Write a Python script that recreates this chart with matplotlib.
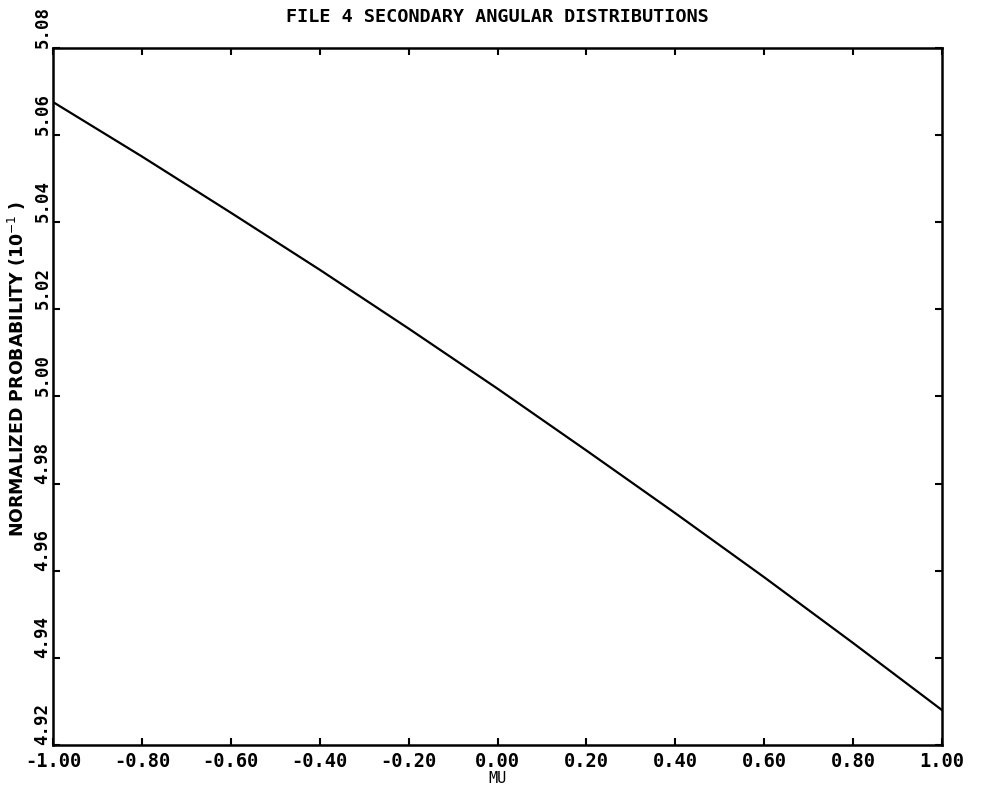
import numpy as np
import matplotlib
matplotlib.use("Agg")
import matplotlib.pyplot as plt

# ----------------------------------------------------------------------------------------------------------------------
# Data
mu = [-1.0, -0.8, -0.6, -0.4, -0.2, 0.0, 0.2, 0.4, 0.6, 0.8, 1.0]
prob = [5.0676, 5.0551, 5.0422, 5.0291, 5.0156, 5.0018, 4.9876, 4.9732, 4.9585, 4.9434, 4.928]

x_ticks = [-1.0, -0.8, -0.6, -0.4, -0.2, 0.0, 0.2, 0.4, 0.6, 0.8, 1.0]
x_labels = ["-1.00", "-0.80", "-0.60", "-0.40", "-0.20", "0.00", "0.20", "0.40", "0.60", "0.80", "1.00"]
y_ticks = [4.92, 4.94, 4.96, 4.98, 5.00, 5.02, 5.04, 5.06, 5.08]
y_labels = ["4.92", "4.94", "4.96", "4.98", "5.00", "5.02", "5.04", "5.06", "5.08"]
# ----------------------------------------------------------------------------------------------------------------------

plot_font = "DejaVu Sans Mono"

fig = plt.figure(figsize=(9.89, 7.91), dpi=100)
ax = fig.add_axes([0.0536, 0.0582, 0.8989, 0.8811])

ax.plot(mu, prob, color="black", linewidth=1.6)

ax.set_xlim(-1.0, 1.0)
ax.set_ylim(4.92, 5.08)

ax.set_xticks(x_ticks)
ax.set_xticklabels(x_labels, fontfamily=plot_font, fontweight="bold", fontsize=13.5)
ax.set_yticks(y_ticks)
ax.set_yticklabels(y_labels, fontfamily=plot_font, fontweight="bold", fontsize=12.5,
                   rotation=90, va="bottom")

ax.tick_params(axis="both", which="both", direction="in", length=5, width=1.5,
               top=True, right=True, pad=3)
ax.tick_params(axis="x", pad=5)
ax.tick_params(axis="y", pad=1)

for sp in ax.spines.values():
    sp.set_linewidth(1.8)

ax.set_title("FILE 4 SECONDARY ANGULAR DISTRIBUTIONS", fontfamily=plot_font,
             fontweight="bold", fontsize=13.3, pad=19)
ax.set_xlabel("MU", fontfamily=plot_font, fontsize=11, labelpad=0)
ax.set_ylabel("NORMALIZED PROBABILITY (10$^{-1}$ )", fontfamily="DejaVu Sans",
              fontweight="bold", fontsize=12.5, labelpad=2)
ax.yaxis.set_label_coords(-0.028, 0.54)

fig.savefig("out.png", dpi=100, facecolor="white")
